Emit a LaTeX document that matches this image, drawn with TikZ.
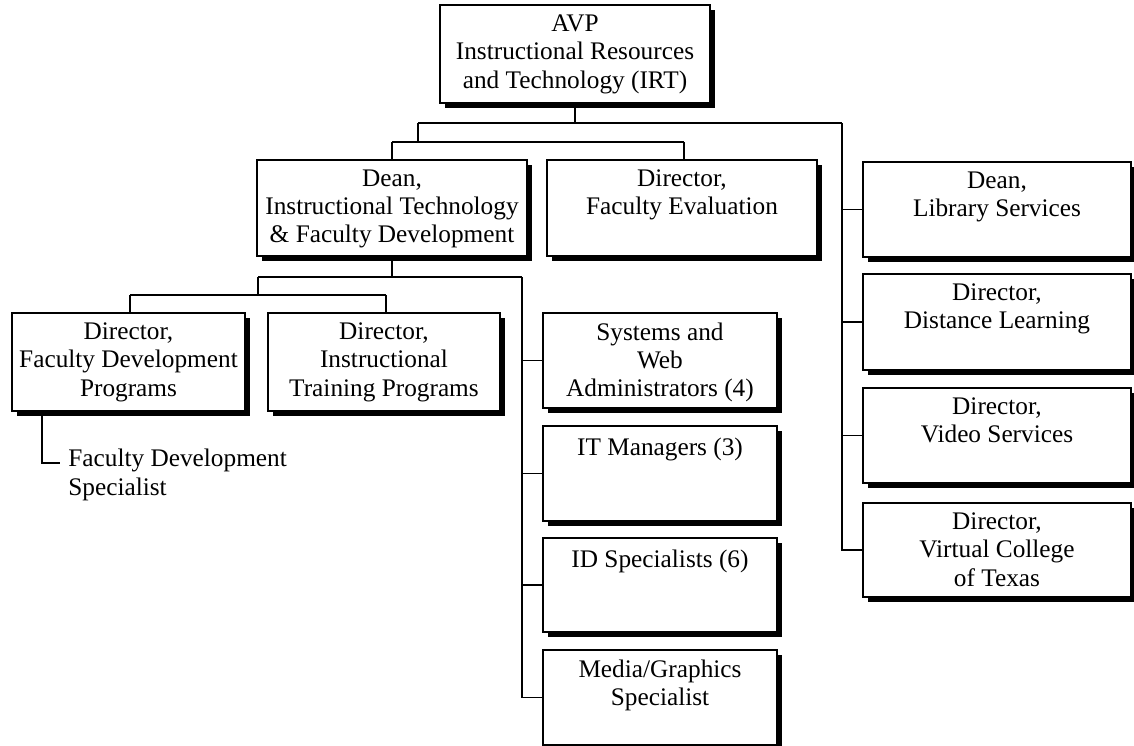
\documentclass[tikz,border=0pt]{standalone}
\usepackage{fontspec}
\setmainfont{Liberation Serif}
\usetikzlibrary{fit,shadows}

\tikzset{
  orgbox/.style={draw, line width=0.85pt, fill=white, rectangle, inner sep=0pt, outer sep=0pt,
    drop shadow={shadow xshift=0.1cm, shadow yshift=-0.1cm, opacity=1, fill=black}},
  boxtext/.style={anchor=north, inner sep=0pt, align=center, yshift=-0.19cm,
    font=\fontsize{14.4}{16.1}\selectfont, execute at begin node=\rule{0pt}{11pt}},
  plaintext/.style={anchor=north west, inner sep=0pt, align=left,
    font=\fontsize{14.4}{16.1}\selectfont, execute at begin node=\rule{0pt}{11pt}},
  link/.style={line width=0.8pt}
}

\begin{document}
\begin{tikzpicture}[x=0.02cm, y=-0.02cm]
\useasboundingbox (0,0) rectangle (1134,746);
\clip (0,0) rectangle (1134,746);

% top level
\node[orgbox, fit={(440,5) (710,103)}] (avp) {};
\node[boxtext] at (avp.north) {AVP\\Instructional Resources\\and Technology (IRT)};

% second level
\node[orgbox, fit={(257,160) (527,256)}] (dean) {};
\node[boxtext] at (dean.north) {Dean,\\Instructional Technology\\\& Faculty Development};
\node[orgbox, fit={(547,160) (817,256)}] (fe) {};
\node[boxtext] at (fe.north) {Director,\\Faculty Evaluation};

% right column
\node[orgbox, fit={(863,162) (1131,257)}] (lib) {};
\node[boxtext] at (lib.north) {Dean,\\Library Services};
\node[orgbox, fit={(863,274) (1131,370)}] (dl) {};
\node[boxtext] at (dl.north) {Director,\\Distance Learning};
\node[orgbox, fit={(863,388) (1131,483)}] (vs) {};
\node[boxtext] at (vs.north) {Director,\\Video Services};
\node[orgbox, fit={(863,503) (1131,597)}] (vc) {};
\node[boxtext] at (vc.north) {Director,\\Virtual College\\of Texas};

% third level
\node[orgbox, fit={(12,313) (245,411)}] (fdp) {};
\node[boxtext] at (fdp.north) {Director,\\Faculty Development\\Programs};
\node[orgbox, fit={(268,313) (500,411)}] (itp) {};
\node[boxtext] at (itp.north) {Director,\\Instructional\\Training Programs};

% middle column
\node[orgbox, fit={(543,313) (777,408)}] (sys) {};
\node[boxtext] at (sys.north) {Systems and\\Web\\Administrators (4)};
\node[orgbox, fit={(543,426) (777,521)}] (itm) {};
\node[boxtext] at (itm.north) {IT Managers (3)};
\node[orgbox, fit={(543,538) (777,632)}] (ids) {};
\node[boxtext] at (ids.north) {ID Specialists (6)};
\node[orgbox, fit={(543,650) (777,745)}] (med) {};
\node[boxtext] at (med.north) {Media/Graphics\\Specialist};

% specialist under faculty development programs
\node[plaintext] (fs) at (68,449) {Faculty Development\\Specialist};

% junction points
\coordinate (t1) at (418,123);
\coordinate (t2) at (842,123);
\coordinate (t3) at (392,142);
\coordinate (t4) at (684,142);
\coordinate (d1) at (258,277);
\coordinate (d2) at (522,277);
\coordinate (d3) at (130,295);
\coordinate (d4) at (386,295);
\coordinate (s1) at (42,463);
\coordinate (s2) at (60,463);

% connectors from the AVP
\draw[link] (avp.south) -- (avp.south |- t1);
\draw[link] (t1) -- (t2);
\draw[link] (t1) -- (t1 |- t3);
\draw[link] (t3) -- (t4);
\draw[link] (t3) -- (t3 |- dean.north);
\draw[link] (t4) -- (t4 |- fe.north);
\draw[link] (t2) |- (vc.west);
\draw[link] (lib.west -| t2) -- (lib.west);
\draw[link] (dl.west -| t2) -- (dl.west);
\draw[link] (vs.west -| t2) -- (vs.west);

% connectors from the dean
\draw[link] (dean.south) -- (dean.south |- d1);
\draw[link] (d1) -- (d2);
\draw[link] (d1) -- (d1 |- d3);
\draw[link] (d3) -- (d4);
\draw[link] (d3) -- (d3 |- fdp.north);
\draw[link] (d4) -- (d4 |- itp.north);
\draw[link] (d2) |- (med.west);
\draw[link] (sys.west -| d2) -- (sys.west);
\draw[link] (itm.west -| d2) -- (itm.west);
\draw[link] (ids.west -| d2) -- (ids.west);

% faculty development specialist
\draw[link] (fdp.south -| s1) |- (s2);
\end{tikzpicture}
\end{document}
